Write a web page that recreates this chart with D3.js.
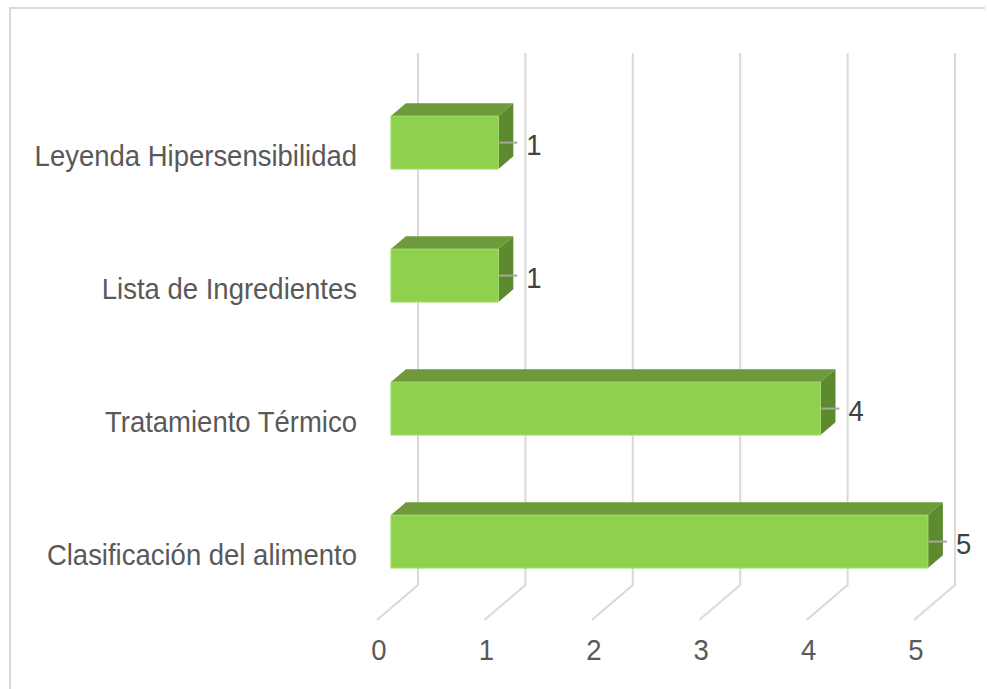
<!DOCTYPE html>
<html>
<head>
<meta charset="utf-8">
<script src="https://cdn.jsdelivr.net/npm/d3@7"></script>
<style>
  html, body { margin: 0; padding: 0; background: #fff; }
  svg { display: block; }
</style>
</head>
<body>
<div id="chart"></div>
<script>
(function () {

    // datos (de abajo hacia arriba, como en Excel)
    const categories = ['Clasificación del alimento', 'Tratamiento Térmico', 'Lista de Ingredientes', 'Leyenda Hipersensibilidad'];
    const values = [5, 4, 1, 1];
    const ticks = [0, 1, 2, 3, 4, 5];

    const W = 987, H = 689;

    const chart = d3.select('#chart')
        .append('svg')
        .attr('width', W)
        .attr('height', H);

    // marco
    chart.append('path')
        .attr('d', 'M10,' + H + ' L10,8 L985,8')
        .attr('fill', 'none')
        .attr('stroke', '#d9d9d9')
        .attr('stroke-width', 2);

    // escala sobre la pared del fondo
    const x = d3.scaleLinear()
        .domain([0, 5])
        .range([418, 955]);

    const y = d3.scaleBand()
        .domain(categories)
        .range([585, 53]);

    // profundidad: d = 0 fondo, d = 1 frente
    const depthX = -41, depthY = 35;
    const proj = (v, py, d) => [x(v) + depthX * d, py + depthY * d];

    const dFront = 0.66, dBack = 0.295;
    const barH = 53;

    // líneas de cuadrícula (pared + piso)
    const grid = chart.append('g');
    grid.selectAll('path')
        .data(ticks)
        .enter()
        .append('path')
        .attr('d', t => {
            const [fx, fy] = proj(t, 585, 1);
            return 'M' + x(t) + ',53 L' + x(t) + ',585 L' + fx + ',' + fy;
        })
        .attr('fill', 'none')
        .attr('stroke', '#d9d9d9')
        .attr('stroke-width', 2);

    const poly = pts => 'M' + pts.map(p => p.join(',')).join('L') + 'Z';

    const rows = categories.map((c, i) => ({ cat: c, val: values[i] }));

    const bars = chart.append('g')
        .selectAll('g')
        .data(rows)
        .enter()
        .append('g');

    const cy = d => y(d.cat) + y.bandwidth() / 2;

    // cara superior
    bars.append('path')
        .attr('d', d => {
            const t = cy(d) - barH / 2;
            return poly([proj(0, t, dFront), proj(d.val, t, dFront), proj(d.val, t, dBack), proj(0, t, dBack)]);
        })
        .attr('fill', '#6e9a3b');

    // cara lateral
    bars.append('path')
        .attr('d', d => {
            const t = cy(d) - barH / 2, b = cy(d) + barH / 2;
            return poly([proj(d.val, t, dFront), proj(d.val, t, dBack), proj(d.val, b, dBack), proj(d.val, b, dFront)]);
        })
        .attr('fill', '#5e8a2f');

    // cara frontal
    bars.append('path')
        .attr('d', d => {
            const t = cy(d) - barH / 2, b = cy(d) + barH / 2;
            return poly([proj(0, t, dFront), proj(d.val, t, dFront), proj(d.val, b, dFront), proj(0, b, dFront)]);
        })
        .attr('fill', '#8fd14f')
        .attr('stroke', '#a4dc6e')
        .attr('stroke-width', 1);

    const addText = (sel, fx, fy, anchor, color) => sel
        .attr('transform', d => 'translate(' + fx(d) + ',' + fy(d) + ') scale(1,1.1)')
        .attr('text-anchor', anchor)
        .attr('dominant-baseline', 'central')
        .attr('font-family', '"Liberation Sans", Arial, sans-serif')
        .attr('font-size', 27.5)
        .attr('fill', color);

    // líneas guía de las etiquetas
    bars.append('line')
        .attr('x1', d => proj(d.val, 0, dFront)[0] + 1)
        .attr('x2', d => proj(d.val, 0, dFront)[0] + 19)
        .attr('y1', d => proj(0, cy(d), dFront)[1])
        .attr('y2', d => proj(0, cy(d), dFront)[1])
        .attr('stroke', '#a6a6a6')
        .attr('stroke-width', 2);

    // etiquetas de datos
    addText(bars.append('text').text(d => d.val),
        d => proj(d.val, 0, dFront)[0] + 28,
        d => proj(0, cy(d), dFront)[1] + 2,
        'start', '#404040');

    // etiquetas de categoría
    addText(chart.append('g').selectAll('text').data(rows).enter().append('text').text(d => d.cat),
        d => 357,
        d => proj(0, cy(d), dFront)[1] + 13,
        'end', '#595959');

    // eje de valores
    addText(chart.append('g').selectAll('text').data(ticks).enter().append('text').text(d => d),
        d => proj(d, 0, 1)[0] + 2,
        d => 650,
        'middle', '#595959');

})();
</script>
</body>
</html>
